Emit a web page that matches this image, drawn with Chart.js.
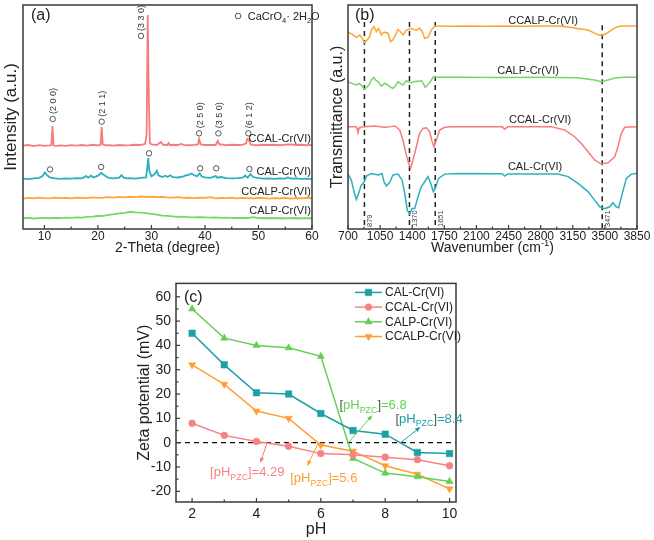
<!DOCTYPE html>
<html>
<head>
<meta charset="utf-8">
<script src="https://cdn.jsdelivr.net/npm/chart.js@4.4.1/dist/chart.umd.min.js"></script>
<style>
  html, body { margin: 0; padding: 0; background: #fff; }
  #fig { position: relative; width: 654px; height: 540px; overflow: hidden; background: #fff; }
  canvas { position: absolute; }
</style>
</head>
<body>
<div id="fig">
  <canvas id="xrd" width="327" height="270" style="left:0;top:0"></canvas>
  <canvas id="ftir" width="327" height="270" style="left:327px;top:0"></canvas>
  <canvas id="zeta" width="360" height="270" style="left:120px;top:270px"></canvas>
</div>
<script>
// ---------- data: (a) XRD, [2-theta, intensity a.u.] ----------
const xrdCCAL = [[6,37.2],[7,37.5],[8,37.0],[9,37.4],[10,37.1],[11,37.3],[11.3,37.4],[11.5,46.0],[11.7,37.5],[12,37.0],
  [13,37.3],[14,37.1],[15,37.4],[16,37.2],[17,37.5],[18,37.2],[19,37.6],[20,37.3],[20.5,37.6],[20.7,45.5],
  [20.9,37.8],[21.5,37.3],[22,37.4],[23,37.2],[24,37.5],[25,37.3],[26,37.4],[27,37.6],[28,37.5],[28.8,37.9],
  [29.1,42.0],[29.3,95.5],[29.5,60.0],[29.7,38.5],[30,37.8],[31,37.5],[31.8,38.8],[32.2,37.6],[33,37.5],[33.2,38.4],
  [33.5,37.4],[34,37.6],[35,37.5],[35.5,38.0],[36,37.6],[37,37.4],[38,37.6],[38.7,37.8],[38.9,40.2],[39.2,37.8],
  [40,37.5],[41,37.6],[42,37.5],[42.4,39.3],[42.7,37.6],[43,37.8],[44,37.4],[45,37.6],[46,37.5],[47,37.6],
  [47.7,38.2],[47.9,40.2],[48.2,39.8],[48.5,37.8],[49,37.6],[50,37.4],[51,37.6],[52,37.5],[53,37.6],[54,37.4],
  [55,37.7],[56,37.8],[57,37.5],[58,37.6],[59,37.4],[60,37.6]];
const xrdCAL = [[6,22.5],[7,22.3],[8,22.6],[9,22.8],[9.6,23.5],[10.1,25.2],[10.5,24.0],[11,23.0],[12,22.6],[13,22.4],
  [14,22.6],[15,22.5],[16,22.7],[17,22.6],[17.8,23.6],[18.2,22.9],[18.7,23.8],[19.2,23.0],[20,23.8],[20.6,25.0],
  [21.2,24.0],[22,22.8],[23,22.6],[24,22.9],[24.4,24.0],[24.8,22.9],[25.5,22.6],[26,22.7],[27,22.5],[28,22.8],
  [29,23.0],[29.2,27.0],[29.4,31.7],[29.6,26.0],[30,23.5],[30.6,24.5],[31,26.0],[31.3,24.0],[32,23.2],[32.6,23.8],
  [33,23.2],[33.5,24.0],[34,23.2],[35,23.0],[36,23.5],[36.5,24.0],[37,24.2],[37.5,24.8],[38,24.0],[38.5,23.5],
  [39,24.8],[39.4,23.4],[40,23.0],[41,22.8],[42,23.6],[42.3,22.9],[43,23.2],[44,22.7],[45,22.6],[46,22.7],
  [47,22.9],[47.5,23.8],[48,23.0],[48.5,24.5],[49,23.2],[50,22.7],[51,22.5],[52,22.6],[53,22.4],[54,22.6],
  [55,22.5],[55.5,23.0],[56,22.5],[57,22.6],[58,22.4],[59,22.5],[60,22.3]];
const xrdCCALP = [[6,13.6],[7,13.9],[8,13.7],[9,14.0],[10,13.8],[11,13.7],[12,14.0],[13,13.8],[14,13.9],[15,13.7],
  [16,14.0],[17,13.9],[18,13.8],[19,14.1],[20,13.9],[21,14.0],[22,14.2],[23,14.0],[24,14.3],[25,14.1],
  [26,14.4],[27,14.2],[28,14.5],[29,14.3],[30,14.4],[31,14.2],[32,14.3],[33,14.1],[34,14.0],[35,14.2],
  [36,13.9],[37,14.0],[38,13.8],[39,14.0],[40,13.9],[41,14.2],[42,13.7],[43,13.9],[44,13.8],[45,14.0],
  [46,13.7],[47,13.9],[48,13.8],[49,13.7],[50,13.9],[51,13.8],[52,13.6],[53,13.8],[54,13.7],[55,13.9],
  [56,13.6],[57,13.8],[58,13.7],[59,13.9],[60,13.8]];
const xrdCALP = [[6,4.8],[7,5.0],[8,4.7],[9,4.9],[10,5.0],[11,4.8],[12,5.0],[13,4.9],[14,5.1],[15,5.0],
  [16,5.2],[17,5.1],[18,5.4],[19,5.5],[20,5.8],[21,5.9],[22,6.3],[23,6.6],[24,7.0],[25,7.2],
  [26,7.7],[27,7.4],[28,7.3],[29,7.1],[30,6.8],[31,6.4],[32,6.0],[33,5.9],[34,5.6],[35,5.4],
  [36,5.5],[37,5.3],[38,5.2],[39,5.3],[40,5.2],[41,5.1],[42,5.2],[43,5.0],[44,5.1],[45,5.0],
  [46,4.9],[47,5.0],[48,4.9],[49,5.3],[50,4.9],[51,4.8],[52,4.9],[53,4.8],[54,4.9],[55,4.7],
  [56,4.8],[57,4.9],[58,4.7],[59,4.8],[60,4.8]];
// CaCrO4·2H2O markers
const peakCCAL = [[11.55,49.1],[20.7,47.9],[28.05,86.2],[38.9,42.7],[42.5,42.7],[48.1,42.7]];
const peakCAL = [[11.05,26.6],[20.6,27.7],[29.55,33.8],[39.1,27.1],[42.1,27.1],[48.3,26.8]];
const hklLabels = ['(2 0 0)', '(2 1 1)', '(3 3 0)', '(2 5 0)', '(3 5 0)', '(6 1 2)'];
const xrdTicks = [10, 20, 30, 40, 50, 60];
const sampleNames = ['CAL-Cr(VI)', 'CCAL-Cr(VI)', 'CALP-Cr(VI)', 'CCALP-Cr(VI)'];

// ---------- data: (b) FTIR, [wavenumber, transmittance a.u.] ----------
const ftirCCALP = [[700,87.8],[740,87.1],[791,85.6],[827,86.6],[850,85.5],[882,83.2],[910,84.5],[936,85.9],[954,88.8],[983,90.3],
  [1000,89.0],[1009,88.1],[1034,89.6],[1063,86.6],[1080,87.6],[1100,87.8],[1136,87.4],[1165,83.6],[1190,84.5],[1209,85.9],
  [1245,89.1],[1270,88.2],[1300,86.6],[1336,88.8],[1390,89.6],[1420,89.0],[1445,88.8],[1481,89.6],[1510,88.0],[1536,85.1],
  [1560,85.5],[1579,85.9],[1608,88.8],[1645,90.6],[1700,90.6],[1800,90.5],[2000,90.6],[2200,90.5],[2400,90.6],[2600,90.5],
  [2800,90.6],[2989,90.6],[3100,90.2],[3200,89.5],[3316,88.8],[3400,87.2],[3440,86.5],[3480,86.6],[3520,87.4],[3560,88.5],
  [3607,89.8],[3660,90.5],[3697,90.6],[3850,90.6]];
const ftirCALP = [[700,65.8],[740,65.0],[791,64.3],[827,65.0],[882,62.3],[910,63.5],[936,64.7],[954,66.5],[983,67.7],[1000,66.5],
  [1027,65.8],[1063,63.8],[1100,65.0],[1136,64.3],[1165,63.2],[1190,62.8],[1220,64.0],[1245,65.8],[1270,65.0],[1299,64.3],
  [1336,66.2],[1370,65.5],[1390,65.3],[1430,65.8],[1463,66.0],[1499,66.2],[1520,65.0],[1543,63.2],[1570,64.5],[1590,65.3],
  [1626,67.7],[1700,67.7],[2000,67.7],[2400,67.6],[2800,67.7],[3200,67.5],[3388,66.5],[3461,65.8],[3534,66.5],[3607,67.4],
  [3700,67.7],[3850,67.7]];
const ftirCCAL = [[700,45.7],[791,45.7],[800,44.5],[809,43.0],[820,45.0],[827,45.4],[882,45.7],[991,46.0],[1050,45.6],[1100,45.4],
  [1172,45.7],[1209,46.0],[1263,44.2],[1299,39.7],[1336,33.0],[1361,29.3],[1383,27.1],[1408,30.8],[1445,36.7],[1481,42.7],
  [1517,44.9],[1554,45.2],[1590,43.5],[1616,39.0],[1637,36.7],[1663,39.7],[1699,44.2],[1754,45.4],[1826,45.7],[2000,45.7],
  [2380,45.6],[2408,44.5],[2440,45.6],[2700,45.7],[2916,45.7],[3061,44.2],[3170,41.2],[3243,38.2],[3316,34.5],[3388,30.8],
  [3461,29.0],[3534,29.6],[3607,32.2],[3643,36.7],[3679,42.7],[3715,45.4],[3850,45.7]];
const ftirCAL = [[700,24.5],[736,21.9],[765,16.7],[791,13.2],[816,15.9],[845,19.7],[874,20.7],[900,23.6],[954,24.8],[1027,24.1],
  [1071,24.8],[1092,21.1],[1118,19.2],[1154,20.7],[1190,24.1],[1245,24.5],[1289,21.9],[1318,15.9],[1347,8.3],[1372,6.8],
  [1398,9.1],[1427,9.1],[1463,14.4],[1499,18.9],[1536,21.1],[1572,23.4],[1601,20.4],[1630,16.7],[1652,18.2],[1688,22.6],
  [1754,24.5],[1899,24.8],[2380,24.7],[2408,23.6],[2440,24.6],[2916,24.6],[2989,24.5],[3098,23.4],[3207,20.4],[3316,16.7],
  [3388,12.9],[3443,9.9],[3498,9.1],[3552,9.9],[3588,11.7],[3625,9.9],[3650,9.5],[3690,15.9],[3734,22.6],[3788,24.5],
  [3850,24.8]];
const ftirBands = [879, 1370, 1651, 3471];
const ftirTicks = [700, 1050, 1400, 1750, 2100, 2450, 2800, 3150, 3500, 3850];

// ---------- data: (c) zeta potential ----------
const phValues = [2, 3, 4, 5, 6, 7, 8, 9, 10];
const zetaCAL = [45, 32, 20.5, 20, 12, 5, 3.5, -4, -4.5];
const zetaCCAL = [8, 3, 0.5, -1.5, -4.5, -5, -6, -7, -9.5];
const zetaCALP = [55, 43, 40, 39, 35.5, -6.5, -12.5, -14, -16];
const zetaCCALP = [32, 24, 13, 10, -1, -3.5, -9.5, -13, -19];
const pzcValues = { CAL: 8.4, CCAL: 4.29, CALP: 6.8, CCALP: 5.6 };
const phTicks = [2, 4, 6, 8, 10];
const zetaTicks = [-20, -10, 0, 10, 20, 30, 40, 50, 60];

// ---------- styles ----------
const FONT = '"Liberation Sans", Arial, Helvetica, sans-serif';
Chart.defaults.font.family = FONT;
Chart.defaults.color = '#222';
const AXIS = '#3a3a3a';
const COL = {
  teal: '#2bb0bc', salmon: '#f47c7c', orange: '#ffa436', green: '#74d864',
  cTeal: '#1ca0a6', cSalmon: '#f58383', cGreen: '#66cf55', cOrange: '#ff9f33'
};

function line(ctx, x1, y1, x2, y2) {
  ctx.beginPath(); ctx.moveTo(x1, y1); ctx.lineTo(x2, y2); ctx.stroke();
}

// fixed tick positions
const useTicks = list => s => { s.ticks = list.map(v => ({ value: v })); };

// text with sub/superscript pieces: [text, color, 'sub'|'sup'|undefined]
function richText(ctx, parts, x, y, size, align) {
  const small = size * 0.68;
  let w = 0;
  parts.forEach(p => { ctx.font = (p[2] ? small : size) + 'px ' + FONT; w += ctx.measureText(p[0]).width; });
  let cx = align === 'right' ? x - w : align === 'center' ? x - w / 2 : x;
  ctx.textAlign = 'left';
  ctx.textBaseline = 'alphabetic';
  parts.forEach(p => {
    ctx.font = (p[2] ? small : size) + 'px ' + FONT;
    ctx.fillStyle = p[1];
    const dy = p[2] === 'sub' ? size * 0.28 : p[2] === 'sup' ? -size * 0.42 : 0;
    ctx.fillText(p[0], cx, y + dy);
    cx += ctx.measureText(p[0]).width;
  });
}

function arrow(ctx, x1, y1, x2, y2, color) {
  ctx.strokeStyle = color; ctx.fillStyle = color; ctx.lineWidth = 1;
  const a = Math.atan2(y2 - y1, x2 - x1), L = 5.5, W = 2.3;
  line(ctx, x1, y1, x2 - 2 * Math.cos(a), y2 - 2 * Math.sin(a));
  ctx.beginPath();
  ctx.moveTo(x2, y2);
  ctx.lineTo(x2 - L * Math.cos(a) + W * Math.sin(a), y2 - L * Math.sin(a) - W * Math.cos(a));
  ctx.lineTo(x2 - L * Math.cos(a) - W * Math.sin(a), y2 - L * Math.sin(a) + W * Math.cos(a));
  ctx.closePath(); ctx.fill();
}

// box around plot + inward ticks (Origin style)
function framePlugin(xStep, yStep) {
  return {
    id: 'frame',
    afterDatasetsDraw(chart) {
      const { ctx, chartArea: a, scales: { x, y } } = chart;
      ctx.save();
      ctx.strokeStyle = AXIS;
      ctx.lineWidth = 1.5;
      ctx.strokeRect(a.left, a.top, a.right - a.left, a.bottom - a.top);
      ctx.lineWidth = 1.2;
      x.ticks.forEach(t => {
        const p = x.getPixelForValue(t.value);
        line(ctx, p, a.bottom, p, a.bottom - 4);
        const m = x.getPixelForValue(t.value + xStep / 2);
        if (m < a.right - 2) line(ctx, m, a.bottom, m, a.bottom - 2.5);
      });
      if (yStep) {
        y.ticks.forEach(t => {
          const p = y.getPixelForValue(t.value);
          line(ctx, a.left, p, a.left + 4, p);
          const m = y.getPixelForValue(t.value + yStep / 2);
          if (m > a.top + 2) line(ctx, a.left, m, a.left + 2.5, m);
        });
      }
      ctx.restore();
    }
  };
}

function panelTag(text, dx, dy) {
  return {
    id: 'tag',
    afterDraw(chart) {
      const { ctx, chartArea: a } = chart;
      ctx.save();
      ctx.font = '16px ' + FONT; ctx.fillStyle = '#222';
      ctx.textAlign = 'left'; ctx.textBaseline = 'middle';
      ctx.fillText(text, a.left + dx, a.top + dy);
      ctx.restore();
    }
  };
}

const baseOpts = {
  responsive: false, animation: false, devicePixelRatio: 1,
  plugins: { legend: { display: false }, tooltip: { enabled: false } },
  elements: { point: { radius: 0 }, line: { tension: 0 } }
};

// ---------- (a) XRD ----------
new Chart(document.getElementById('xrd'), {
  type: 'line',
  data: {
    datasets: [
      { data: xrdCCAL, borderColor: COL.salmon, borderWidth: 1.8 },
      { data: xrdCAL, borderColor: COL.teal, borderWidth: 1.8 },
      { data: xrdCCALP, borderColor: COL.orange, borderWidth: 1.8 },
      { data: xrdCALP, borderColor: COL.green, borderWidth: 1.8 },
      { data: peakCCAL, showLine: false, pointRadius: 2.7, pointBorderWidth: 1, pointBorderColor: '#555', pointBackgroundColor: '#fff' },
      { data: peakCAL, showLine: false, pointRadius: 2.7, pointBorderWidth: 1, pointBorderColor: '#555', pointBackgroundColor: '#fff' }
    ]
  },
  options: {
    ...baseOpts,
    layout: { padding: { left: 0, top: 5, right: 15, bottom: 0 } },
    scales: {
      x: {
        type: 'linear', min: 6, max: 60,
        afterBuildTicks: useTicks(xrdTicks),
        ticks: { autoSkip: false, maxRotation: 0, padding: 0, font: { size: 12 } },
        grid: { display: false, drawTicks: false }, border: { display: false },
        title: { display: true, text: '2-Theta (degree)', font: { size: 14 }, padding: { top: 0, bottom: 13 } },
        afterFit: s => { s.height = 41; }
      },
      y: {
        min: 0, max: 100,
        ticks: { display: false }, grid: { display: false, drawTicks: false }, border: { display: false },
        title: { display: true, text: 'Intensity (a.u.)', font: { size: 17 }, padding: { top: 1, bottom: 0 } },
        afterFit: s => { s.width = 23; }
      }
    }
  },
  plugins: [framePlugin(10, 0), panelTag('(a)', 8, 11), {
    id: 'xrdText',
    afterDatasetsDraw(chart) {
      const { ctx, scales: { x, y } } = chart;
      ctx.save();
      // hkl labels above the markers
      ctx.font = '9px ' + FONT; ctx.fillStyle = '#333';
      ctx.textAlign = 'left'; ctx.textBaseline = 'middle';
      peakCCAL.forEach((p, i) => {
        ctx.save();
        ctx.translate(x.getPixelForValue(p[0]) + 1, y.getPixelForValue(p[1]) - 5);
        ctx.rotate(-Math.PI / 2);
        ctx.fillText(hklLabels[i], 0, 0);
        ctx.restore();
      });
      // sample names
      const names = [[sampleNames[1], 40.2], [sampleNames[0], 25.4], [sampleNames[3], 16.5], [sampleNames[2], 8.0]];
      ctx.font = '11px ' + FONT; ctx.fillStyle = '#222';
      ctx.textAlign = 'right';
      names.forEach(n => ctx.fillText(n[0], x.getPixelForValue(59.8), y.getPixelForValue(n[1])));
      // legend
      const lx = x.getPixelForValue(46.2), ly = y.getPixelForValue(95.1);
      ctx.strokeStyle = '#555'; ctx.lineWidth = 1;
      ctx.beginPath(); ctx.arc(lx, ly, 2.8, 0, Math.PI * 2); ctx.stroke();
      richText(ctx, [['CaCrO', '#222'], ['4', '#222', 'sub'], ['· 2H', '#222'], ['2', '#222', 'sub'], ['O', '#222']],
        x.getPixelForValue(48.0), ly + 4, 11, 'left');
      ctx.restore();
    }
  }]
});

// ---------- (b) FTIR ----------
new Chart(document.getElementById('ftir'), {
  type: 'line',
  data: {
    datasets: [
      { data: ftirCCALP, borderColor: COL.orange, borderWidth: 1.5 },
      { data: ftirCALP, borderColor: COL.green, borderWidth: 1.5 },
      { data: ftirCCAL, borderColor: COL.salmon, borderWidth: 1.5 },
      { data: ftirCAL, borderColor: COL.teal, borderWidth: 1.5 }
    ]
  },
  options: {
    ...baseOpts,
    layout: { padding: { left: 0, top: 5, right: 17, bottom: 0 } },
    scales: {
      x: {
        type: 'linear', min: 700, max: 3850,
        afterBuildTicks: useTicks(ftirTicks),
        ticks: { autoSkip: false, maxRotation: 0, padding: 0, font: { size: 12 }, callback: v => String(v) },
        grid: { display: false, drawTicks: false }, border: { display: false },
        title: { display: false },
        afterFit: s => { s.height = 41; }
      },
      y: {
        min: 0, max: 100,
        ticks: { display: false }, grid: { display: false, drawTicks: false }, border: { display: false },
        title: { display: true, text: 'Transmittance (a.u.)', font: { size: 16 }, padding: { top: 1, bottom: 0 } },
        afterFit: s => { s.width = 21; }
      }
    }
  },
  plugins: [framePlugin(350, 0), panelTag('(b)', 7, 11), {
    id: 'ftirText',
    beforeDatasetsDraw(chart) {
      const { ctx, chartArea: a, scales: { x, y } } = chart;
      ctx.save();
      ctx.strokeStyle = '#222'; ctx.lineWidth = 1.5; ctx.setLineDash([5, 4]);
      ftirBands.forEach((b, i) => {
        const px = x.getPixelForValue(b);
        line(ctx, px, y.getPixelForValue(i === 3 ? 91 : 92.4), px, a.bottom);
      });
      ctx.restore();
    },
    afterDatasetsDraw(chart) {
      const { ctx, chartArea: a, scales: { x, y } } = chart;
      ctx.save();
      ctx.font = '7.5px ' + FONT; ctx.fillStyle = '#444';
      ctx.textAlign = 'left'; ctx.textBaseline = 'middle';
      ftirBands.forEach(b => {
        ctx.save();
        ctx.translate(x.getPixelForValue(b) + 5.5, a.bottom - 2);
        ctx.rotate(-Math.PI / 2);
        ctx.fillText(String(b), 0, 0);
        ctx.restore();
      });
      const names = [[sampleNames[3], 2826, 92.9], [sampleNames[2], 2663, 70.5], [sampleNames[1], 2794, 48.7], [sampleNames[0], 2739, 27.7]];
      ctx.font = '11px ' + FONT; ctx.fillStyle = '#222'; ctx.textAlign = 'center';
      names.forEach(n => ctx.fillText(n[0], x.getPixelForValue(n[1]), y.getPixelForValue(n[2])));
      // axis title with superscript
      richText(ctx, [['Wavenumber (cm', '#222'], ['-1', '#222', 'sup'], [')', '#222']],
        (a.left + a.right) / 2, 252, 14, 'center');
      ctx.restore();
    }
  }]
});

// ---------- (c) zeta potential ----------
const zSeries = [
  { name: sampleNames[0], vals: zetaCAL, color: COL.cTeal, style: 'rect', r: 4.6, rot: 0 },
  { name: sampleNames[1], vals: zetaCCAL, color: COL.cSalmon, style: 'circle', r: 3.4, rot: 0 },
  { name: sampleNames[2], vals: zetaCALP, color: COL.cGreen, style: 'triangle', r: 4.2, rot: 0 },
  { name: sampleNames[3], vals: zetaCCALP, color: COL.cOrange, style: 'triangle', r: 4.2, rot: 180 }
];

new Chart(document.getElementById('zeta'), {
  type: 'line',
  data: {
    datasets: zSeries.map(s => ({
      label: s.name,
      data: phValues.map((p, i) => ({ x: p, y: s.vals[i] })),
      borderColor: s.color, backgroundColor: s.color, borderWidth: 1.5,
      pointStyle: s.style, pointRadius: s.r, pointRotation: s.rot,
      pointBackgroundColor: s.color, pointBorderColor: s.color, pointBorderWidth: 0.5
    }))
  },
  options: {
    ...baseOpts,
    layout: { padding: { left: 0, top: 8, right: 24, bottom: 0 } },
    scales: {
      x: {
        type: 'linear', min: 1.5, max: 10.2,
        afterBuildTicks: useTicks(phTicks),
        ticks: { autoSkip: false, maxRotation: 0, padding: 3.6, font: { size: 14 } },
        grid: { display: false, drawTicks: false }, border: { display: false },
        title: { display: true, text: 'pH', font: { size: 16 }, padding: { top: 0, bottom: 0.4 } },
        afterFit: s => { s.height = 38; }
      },
      y: {
        min: -24.4, max: 65.5,
        afterBuildTicks: useTicks(zetaTicks),
        ticks: { padding: 5, font: { size: 14 } },
        grid: { display: false, drawTicks: false }, border: { display: false },
        title: { display: true, text: 'Zeta potential (mV)', font: { size: 16 }, padding: { top: 15, bottom: 0 } },
        afterFit: s => { s.width = 56; }
      }
    }
  },
  plugins: [framePlugin(2, 10), panelTag('(c)', 8, 14), {
    id: 'zetaExtras',
    beforeDatasetsDraw(chart) {
      const { ctx, chartArea: a, scales: { y } } = chart;
      ctx.save();
      ctx.strokeStyle = '#111'; ctx.lineWidth = 1.2; ctx.setLineDash([5, 4]);
      const py = y.getPixelForValue(0);
      line(ctx, a.left, py, a.right, py);
      ctx.restore();
    },
    afterDatasetsDraw(chart) {
      const { ctx, chartArea: a, scales: { x, y } } = chart;
      ctx.save();
      // legend
      zSeries.forEach((s, i) => {
        const ly = a.top + 9 + i * 14.7;
        const lx = a.right - 101;
        ctx.strokeStyle = s.color; ctx.lineWidth = 1.5;
        line(ctx, lx, ly, lx + 27, ly);
        ctx.fillStyle = s.color; ctx.lineWidth = 0.5;
        Chart.helpers.drawPoint(ctx, { pointStyle: s.style, radius: s.r, rotation: s.rot, borderWidth: 0.5 }, lx + 13.5, ly);
        ctx.font = '12px ' + FONT; ctx.fillStyle = '#222';
        ctx.textAlign = 'left'; ctx.textBaseline = 'middle';
        ctx.fillText(s.name, lx + 30, ly + 0.5);
      });
      // point of zero charge annotations
      const notes = [
        { v: pzcValues.CALP, c: COL.cGreen, br: '#555', from: [6.86, 0], to: [7.6, 11.3], at: [6.58, 15.7] },
        { v: pzcValues.CAL, c: COL.cTeal, br: '#555', from: [8.48, 0], to: [9.1, 6.5], at: [8.32, 10.1] },
        { v: pzcValues.CCAL, c: COL.cSalmon, br: COL.cSalmon, from: [4.33, 0], to: [4.12, -8.4], at: [2.56, -12.0] },
        { v: pzcValues.CCALP, c: COL.cOrange, br: COL.cOrange, from: [5.92, 0], to: [5.58, -9.6], at: [5.05, -14.4] }
      ];
      notes.forEach(n => {
        arrow(ctx, x.getPixelForValue(n.from[0]), y.getPixelForValue(n.from[1]),
          x.getPixelForValue(n.to[0]), y.getPixelForValue(n.to[1]), n.c);
        richText(ctx, [['[', n.br], ['pH', n.c], ['PZC', n.c, 'sub'], [']', n.br], ['=' + n.v, n.c]],
          x.getPixelForValue(n.at[0]), y.getPixelForValue(n.at[1]) + 4.5, 13, 'left');
      });
      ctx.restore();
    }
  }]
});
</script>
</body>
</html>
